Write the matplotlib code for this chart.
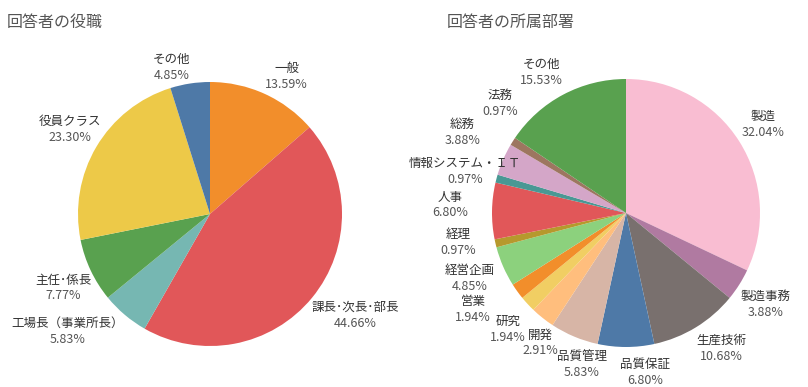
#!/usr/bin/env python3
# coding: utf-8

import matplotlib
matplotlib.use("Agg")
import matplotlib.pyplot as plt

plt.rcParams['font.family'] = ['Noto Sans CJK JP', 'DejaVu Sans']

# left pie: role of respondents
role_labels = ["一般", "課長･次長･部長", "工場長（事業所長）", "主任･係長", "役員クラス", "その他"]
role_values = [13.59, 44.66, 5.83, 7.77, 23.30, 4.85]
role_colors = ["#f28e2b", "#e15759", "#76b7b2", "#59a14f", "#edc948", "#4e79a7"]

# right pie: department of respondents
dept_labels = ["製造", "製造事務", "生産技術", "品質保証", "品質管理", "開発", "研究", "営業",
               "経営企画", "経理", "人事", "情報システム・ＩＴ", "総務", "法務", "その他"]
dept_values = [32.04, 3.88, 10.68, 6.80, 5.83, 2.91, 1.94, 1.94,
               4.85, 0.97, 6.80, 0.97, 3.88, 0.97, 15.53]
dept_colors = ["#f9bdd2", "#b07aa1", "#79706e", "#4e79a7", "#d7b5a6", "#ffbe7d", "#f1ce63", "#f28e2b",
               "#8cd17d", "#b6992d", "#e15759", "#499894", "#d4a6c8", "#9d7660", "#59a14f"]

# label placement (in pie radius units), layout only
role_label_pos = [(0.58, 1.04), (1.10, -0.77), (-1.08, -0.89), (-1.11, -0.56), (-1.06, 0.64), (-0.29, 1.11)]
dept_label_pos = [(1.02, 0.66), (1.04, -0.68), (0.71, -1.01), (0.14, -1.19), (-0.33, -1.13),
                  (-0.64, -0.97), (-0.88, -0.87), (-1.14, -0.72), (-1.17, -0.49), (-1.25, -0.22),
                  (-1.31, 0.06), (-1.20, 0.31), (-1.22, 0.60), (-0.94, 0.82), (-0.63, 1.05)]

W, H = 808, 387


def make_axes(fig, cx, cy, r, xhalf, yhalf):
    # cx, cy in pixels from top-left, r pixels per unit
    left = (cx - xhalf * r) / W
    bottom = (H - cy - yhalf * r) / H
    ax = fig.add_axes([left, bottom, 2 * xhalf * r / W, 2 * yhalf * r / H])
    return ax, (xhalf, yhalf)


def draw_pie(ax, lims, values, colors, labels, label_pos):
    ax.pie(values, colors=colors, startangle=90, counterclock=False, radius=1,
           wedgeprops=dict(linewidth=0))
    # pie() resets the limits, so set them afterwards
    ax.set_xlim(-lims[0], lims[0])
    ax.set_ylim(-lims[1], lims[1])
    ax.set_aspect('equal')
    ax.axis('off')
    for name, v, (x, y) in zip(labels, values, label_pos):
        ax.annotate(name, (x, y), xytext=(0, 5.7), textcoords='offset points',
                    ha='center', va='center', fontsize=9, color='#333333', annotation_clip=False)
        ax.annotate("%.2f%%" % v, (x, y), xytext=(0, -5.7), textcoords='offset points',
                    ha='center', va='center', fontsize=9, color='#555555', annotation_clip=False)


fig = plt.figure(figsize=(W / 100, H / 100), dpi=100)

ax1, lim1 = make_axes(fig, 210, 214, 132, 1.55, 1.3)
draw_pie(ax1, lim1, role_values, role_colors, role_labels, role_label_pos)

ax2, lim2 = make_axes(fig, 626, 213, 134, 1.45, 1.3)
draw_pie(ax2, lim2, dept_values, dept_colors, dept_labels, dept_label_pos)

fig.text(7 / W, 1 - 22 / H, "回答者の役職", fontsize=11.5, color='#555555', ha='left', va='center')
fig.text(447 / W, 1 - 22 / H, "回答者の所属部署", fontsize=11.5, color='#555555', ha='left', va='center')

fig.savefig("out.png", dpi=100)
